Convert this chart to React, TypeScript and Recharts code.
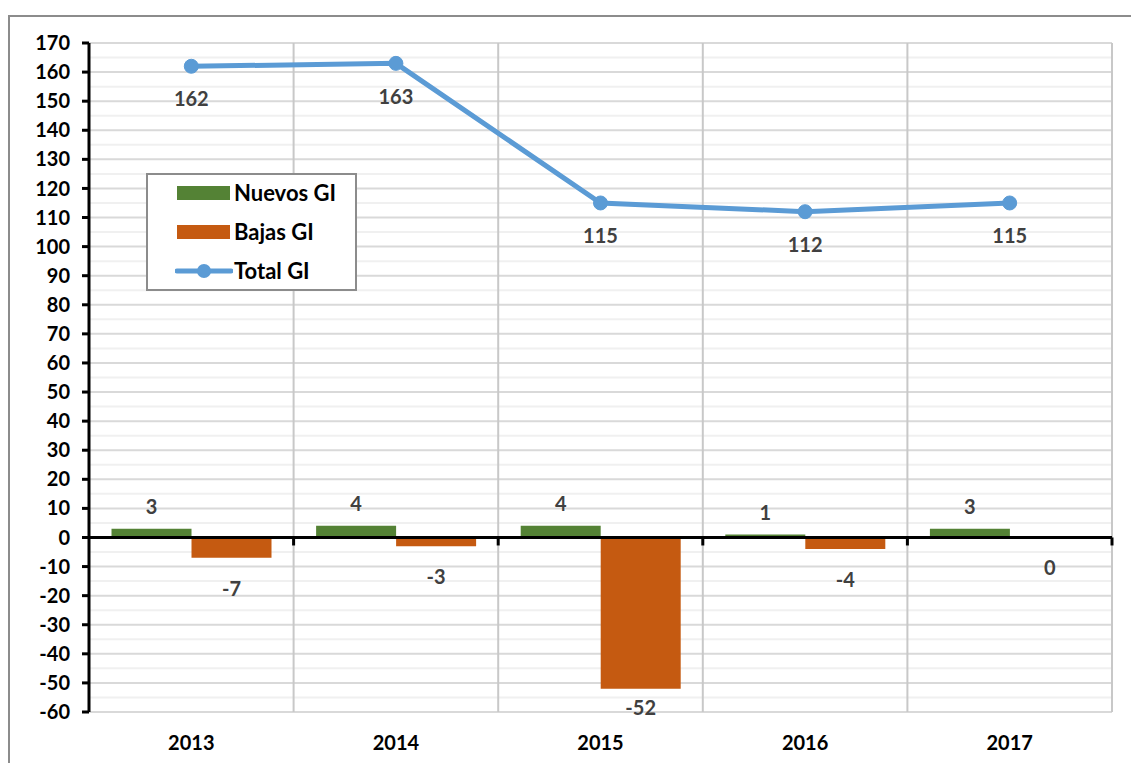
import {
  Bar,
  CartesianGrid,
  ComposedChart,
  LabelList,
  Line,
  ReferenceLine,
  XAxis,
  YAxis,
} from "recharts";

const years = ["2013", "2014", "2015", "2016", "2017"];
const nuevos = [3, 4, 4, 1, 3];
const bajas = [-7, -3, -52, -4, 0];
const total = [162, 163, 115, 112, 115];
const yTicks = [-60, -50, -40, -30, -20, -10, 0, 10, 20, 30, 40, 50, 60, 70, 80, 90, 100, 110, 120, 130, 140, 150, 160, 170];
const minorTicks = [-55, -45, -35, -25, -15, -5, 5, 15, 25, 35, 45, 55, 65, 75, 85, 95, 105, 115, 125, 135, 145, 155, 165];

const data = years.map((year, i) => ({
  year,
  nuevos: nuevos[i],
  bajas: bajas[i],
  total: total[i],
}));

const GREEN = "#548235";
const ORANGE = "#c55a11";
const BLUE = "#5b9bd5";
const FONT = "Lato, 'Open Sans', sans-serif";
const Y_MIN = -60;
const Y_MAX = 170;

const legendItems = [
  { name: "Nuevos GI", color: GREEN, kind: "bar" },
  { name: "Bajas GI", color: ORANGE, kind: "bar" },
  { name: "Total GI", color: BLUE, kind: "line" },
];

const labelStyle = { fontFamily: FONT, fontWeight: 700, fontSize: 20, fill: "#404040" };

// labels for the negative bars sit under the bar end, kept inside the plot
function BajasLabel(props: any) {
  const { x, y, width, height, value } = props;
  const bottom = height > 0 ? y + height : y;
  const cy = Math.min(bottom + 30, 707);
  return (
    <text x={x + width / 2} y={cy} textAnchor="middle" dominantBaseline="central" style={labelStyle}>
      {value}
    </text>
  );
}

function ZeroLine(props: any) {
  const { x1, x2, y1 } = props;
  const step = (x2 - x1) / years.length;
  return (
    <g>
      {years.map((_, i) => (
        <line key={i} x1={x1 + step * (i + 1)} x2={x1 + step * (i + 1)} y1={y1} y2={y1 + 8} stroke="#000" strokeWidth={3} />
      ))}
      <line x1={x1} x2={x2} y1={y1} y2={y1} stroke="#000" strokeWidth={3} />
    </g>
  );
}

export default function App() {
  return (
    <div style={{ position: "absolute", left: 0, top: 0, width: 1131, height: 763, overflow: "hidden", background: "#fff" }}>
      <div
        style={{
          position: "absolute",
          left: 8,
          top: 15,
          width: 1140,
          height: 770,
          border: "2px solid #8c8c8c",
          boxSizing: "border-box",
        }}
      />
      <div style={{ position: "absolute", left: 0, top: 0 }}>
        <ComposedChart
          width={1131}
          height={763}
          data={data}
          margin={{ top: 43, right: 19, left: 29, bottom: 11 }}
          barCategoryGap="11%"
          barGap={0}
        >
          <CartesianGrid
            vertical={false}
            stroke="#f0f0f0"
            strokeWidth={2}
            horizontalCoordinatesGenerator={({ offset }: any) =>
              minorTicks.map((v) => offset.top + ((Y_MAX - v) / (Y_MAX - Y_MIN)) * offset.height)
            }
          />
          <CartesianGrid vertical={false} stroke="#d9d9d9" strokeWidth={2} />
          <CartesianGrid
            horizontal={false}
            stroke="#c8c8c8"
            strokeWidth={2}
            verticalCoordinatesGenerator={({ offset }: any) =>
              years.map((_, i) => offset.left + (offset.width / years.length) * (i + 1))
            }
          />
          <XAxis
            dataKey="year"
            axisLine={false}
            tickLine={false}
            tickMargin={18}
            height={40}
            tick={{ fill: "#000", fontFamily: FONT, fontWeight: 700, fontSize: 20 }}
          />
          <YAxis
            domain={[Y_MIN, Y_MAX]}
            ticks={yTicks}
            interval={0}
            width={60}
            axisLine={{ stroke: "#000", strokeWidth: 3 }}
            tickLine={{ stroke: "#000", strokeWidth: 3 }}
            tickSize={7}
            tickMargin={12}
            tick={{ fill: "#000", fontFamily: FONT, fontWeight: 700, fontSize: 20 }}
          />
          <Bar dataKey="nuevos" fill={GREEN} isAnimationActive={false}>
            <LabelList dataKey="nuevos" position="top" offset={15} style={labelStyle} />
          </Bar>
          <Bar dataKey="bajas" fill={ORANGE} minPointSize={1} isAnimationActive={false}>
            <LabelList dataKey="bajas" content={BajasLabel} />
          </Bar>
          <ReferenceLine y={0} shape={ZeroLine} />
          <Line
            dataKey="total"
            stroke={BLUE}
            strokeWidth={5}
            dot={{ r: 7, fill: BLUE, stroke: BLUE, strokeWidth: 1 }}
            activeDot={false}
            isAnimationActive={false}
          >
            <LabelList dataKey="total" position="bottom" offset={26} style={labelStyle} />
          </Line>
        </ComposedChart>
      </div>
      <div
        style={{
          position: "absolute",
          left: 146,
          top: 173,
          width: 211,
          height: 118,
          border: "2px solid #8c8c8c",
          boxSizing: "border-box",
          background: "#fff",
          fontFamily: FONT,
          fontWeight: 700,
          fontSize: 22,
          color: "#000",
        }}
      >
        <div style={{ marginTop: -2 }}>
          {legendItems.map((item) => (
            <div key={item.name} style={{ display: "flex", alignItems: "center", height: 39, paddingLeft: 27 }}>
              <svg width={58} height={20} style={{ marginRight: 1, flexShrink: 0 }}>
                {item.kind === "bar" ? (
                  <rect x={2} y={3} width={53} height={14} fill={item.color} />
                ) : (
                  <g>
                    <line x1={2} x2={56} y1={10} y2={10} stroke={item.color} strokeWidth={5} strokeLinecap="round" />
                    <circle cx={29} cy={10} r={7} fill={item.color} />
                  </g>
                )}
              </svg>
              <span>{item.name}</span>
            </div>
          ))}
        </div>
      </div>
    </div>
  );
}
